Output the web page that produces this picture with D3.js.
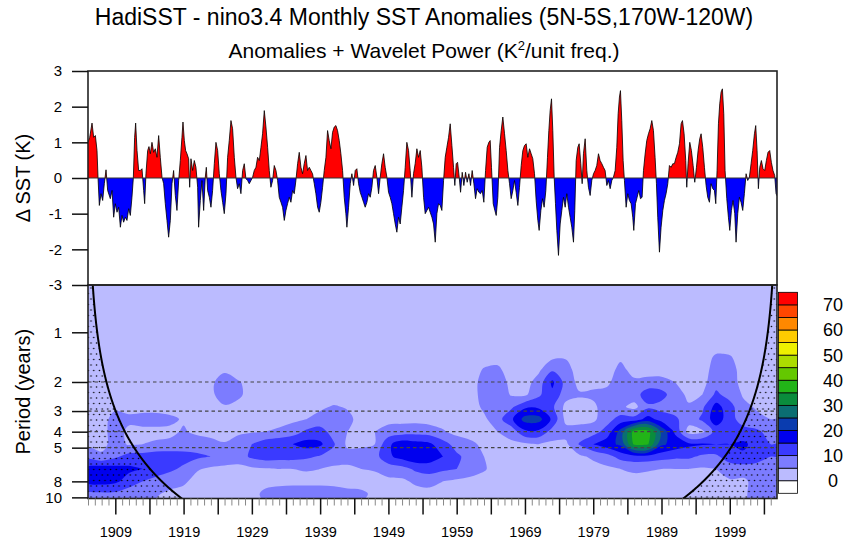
<!DOCTYPE html>
<html><head><meta charset="utf-8">
<script src="https://d3js.org/d3.v7.min.js"></script>
<style>
body{margin:0;background:#fff;}
svg{display:block;font-family:"Liberation Sans",Arial,Helvetica,sans-serif;}
</style>
</head><body>
<svg id="chart" width="848" height="541"></svg>
<script>
// ---------------- DATA ----------------
const sstStartYear = 1905, sstEndYear = 2005.917;
// Nino3.4 anomaly (K), [year, value]
const sst = [[1905,1.0],[1905.25,1.14],[1905.59,1.54],[1905.83,1.14],[1906.08,1.19],[1906.32,0.77],[1906.47,0],[1906.66,-0.77],[1906.91,-0.44],[1907.15,-0.63],[1907.39,-0.16],[1907.64,0.23],[1907.88,-0.35],[1908.27,-0.58],[1908.52,-0.35],[1908.76,-1.1],[1909,-0.72],[1909.25,-0.96],[1909.49,-0.82],[1909.74,-1.38],[1909.98,-1.05],[1910.22,-1.24],[1910.47,-1.1],[1910.71,-1.19],[1910.96,-0.86],[1911.2,-1.05],[1911.44,-0.54],[1911.64,0],[1911.83,1.14],[1911.98,1.54],[1912.18,0.77],[1912.42,0.21],[1912.66,0.21],[1912.91,0.26],[1913.15,-0.35],[1913.3,-0.72],[1913.49,0.12],[1913.74,0.77],[1913.93,0.88],[1914.13,0.68],[1914.37,1.0],[1914.62,0.72],[1914.86,0.82],[1915.1,0.58],[1915.35,1.19],[1915.59,0.58],[1915.84,0.02],[1916.08,-0.16],[1916.32,-0.72],[1916.57,-1.19],[1916.81,-1.66],[1917.06,-1.19],[1917.3,-0.16],[1917.54,0.21],[1917.79,-0.49],[1918.03,-0.91],[1918.28,-0.07],[1918.52,0.49],[1918.76,1.14],[1918.91,1.57],[1919.11,1.05],[1919.3,0.77],[1919.5,0.68],[1919.74,0.54],[1919.89,-0.26],[1920.08,0.54],[1920.33,0.21],[1920.57,0.49],[1920.81,0.3],[1921.06,-0.26],[1921.2,-1.38],[1921.45,-0.63],[1921.69,-0.07],[1921.94,-0.91],[1922.18,0.02],[1922.33,0.3],[1922.52,-0.35],[1922.77,-0.54],[1923.01,-0.82],[1923.25,-0.35],[1923.5,0.4],[1923.74,1.0],[1923.99,0.77],[1924.23,0.12],[1924.47,-0.35],[1924.72,-0.68],[1924.96,-1.0],[1925.21,-0.44],[1925.45,0.58],[1925.69,1.05],[1925.94,1.61],[1926.18,1.38],[1926.43,0.58],[1926.67,0.02],[1926.91,-0.3],[1927.16,-0.16],[1927.4,-0.44],[1927.65,0.21],[1927.89,0.4],[1928.13,-0.02],[1928.38,-0.07],[1928.62,-0.16],[1928.87,-0.07],[1929.11,0.02],[1929.35,0.21],[1929.6,0.3],[1929.84,0.58],[1930.09,0.49],[1930.33,0.86],[1930.57,1.24],[1930.82,1.89],[1931.06,1.43],[1931.31,0.86],[1931.55,0.21],[1931.79,-0.26],[1932.04,-0.07],[1932.28,0.35],[1932.53,0.21],[1932.77,-0.07],[1933.01,-0.54],[1933.26,-0.68],[1933.5,-0.82],[1933.75,-1.19],[1933.99,-0.91],[1934.23,-0.72],[1934.48,-0.54],[1934.72,-0.68],[1934.97,-0.35],[1935.21,-0.44],[1935.45,-0.07],[1935.7,0.4],[1935.94,0.72],[1936.19,0.3],[1936.43,0.12],[1936.67,0.4],[1936.92,0.63],[1937.16,0.21],[1937.41,0.3],[1937.65,0.21],[1937.89,0.12],[1938.14,-0.16],[1938.38,-0.44],[1938.63,-0.82],[1938.87,-0.96],[1939.11,-0.68],[1939.36,-0.26],[1939.6,0.21],[1939.85,0.58],[1940.09,1.33],[1940.33,1.05],[1940.58,0.82],[1940.82,1.28],[1941.07,1.43],[1941.31,1.47],[1941.55,1.33],[1941.8,1.05],[1942.04,0.68],[1942.29,0.21],[1942.53,-0.54],[1942.77,-1.0],[1942.92,-1.38],[1943.16,-0.82],[1943.41,-0.16],[1943.65,0.12],[1943.9,-0.21],[1944.14,0.21],[1944.38,0.26],[1944.63,-0.16],[1944.87,-0.4],[1945.12,-0.54],[1945.36,-0.68],[1945.6,-0.82],[1945.85,-0.68],[1946.09,-0.44],[1946.34,-0.54],[1946.58,-0.26],[1946.82,0.21],[1947.07,0.35],[1947.31,0.02],[1947.56,-0.44],[1947.8,0.02],[1948.04,0.4],[1948.29,0.68],[1948.53,0.3],[1948.78,0.02],[1949.02,-0.4],[1949.26,-0.54],[1949.51,-0.72],[1949.75,-1.0],[1950,-1.29],[1950.24,-1.52],[1950.48,-1.1],[1950.73,-1.29],[1950.97,-0.82],[1951.22,-0.35],[1951.46,0.3],[1951.7,1.0],[1951.95,0.77],[1952.19,0.21],[1952.44,-0.54],[1952.68,0.12],[1952.92,0.4],[1953.17,0.82],[1953.41,0.58],[1953.66,0.77],[1953.9,0.3],[1954.15,-0.54],[1954.39,-1.0],[1954.64,-0.91],[1954.88,-0.82],[1955.12,-0.96],[1955.37,-1.1],[1955.61,-1.29],[1955.86,-1.8],[1956.1,-1.0],[1956.34,-0.72],[1956.59,-0.77],[1956.83,-0.91],[1957.08,-0.07],[1957.32,0.58],[1957.56,0.86],[1957.81,1.14],[1958.05,1.52],[1958.3,0.91],[1958.54,0.3],[1958.73,-0.21],[1958.93,0.4],[1959.13,0.44],[1959.37,0.02],[1959.57,-0.4],[1959.81,0.16],[1960.05,-0.21],[1960.3,0.16],[1960.54,-0.12],[1960.79,0.12],[1961.03,-0.21],[1961.27,0.21],[1961.52,-0.16],[1961.76,-0.58],[1962,-0.3],[1962.25,-0.4],[1962.49,-0.44],[1962.74,-0.35],[1962.98,-0.68],[1963.23,0.21],[1963.47,0.86],[1963.71,1.0],[1963.91,1.05],[1964.1,0.3],[1964.35,-0.72],[1964.59,-0.91],[1964.79,-1.05],[1965.03,-0.54],[1965.28,0.86],[1965.52,1.33],[1965.76,1.71],[1966.01,1.24],[1966.25,0.77],[1966.5,0.21],[1966.74,-0.16],[1966.98,-0.58],[1967.23,-0.35],[1967.47,-0.07],[1967.71,-0.4],[1967.96,-0.77],[1968.2,-0.26],[1968.45,0.35],[1968.69,0.77],[1968.93,0.91],[1969.18,0.96],[1969.42,0.58],[1969.67,0.82],[1969.91,0.68],[1970.15,0.54],[1970.4,0.12],[1970.64,-0.63],[1970.89,-1.19],[1971.08,-1.47],[1971.33,-0.91],[1971.57,-0.58],[1971.81,-0.82],[1972.06,-0.35],[1972.3,0.58],[1972.5,1.33],[1972.69,1.89],[1972.89,2.22],[1973.08,1.33],[1973.28,0.02],[1973.47,-0.72],[1973.67,-1.47],[1973.91,-2.17],[1974.16,-1.29],[1974.4,-0.91],[1974.64,-0.54],[1974.89,-0.82],[1975.13,-0.44],[1975.38,-0.82],[1975.62,-1.1],[1975.86,-1.38],[1976.11,-1.8],[1976.3,-0.91],[1976.5,0.49],[1976.74,0.86],[1976.94,0.96],[1977.18,0.4],[1977.38,-0.16],[1977.57,0.68],[1977.82,1.1],[1978.06,0.21],[1978.3,-0.26],[1978.55,-0.49],[1978.79,-0.07],[1979.04,0.12],[1979.28,0.21],[1979.52,0.35],[1979.77,0.68],[1980.01,0.49],[1980.26,0.4],[1980.5,0.3],[1980.74,0.21],[1980.99,-0.21],[1981.23,-0.07],[1981.48,-0.3],[1981.72,-0.07],[1981.96,0.02],[1982.21,0.21],[1982.45,0.86],[1982.65,1.8],[1982.84,2.27],[1982.99,2.45],[1983.18,1.61],[1983.38,0.49],[1983.57,-0.07],[1983.82,-0.82],[1984.06,-0.44],[1984.3,-0.63],[1984.55,-0.72],[1984.79,-1.1],[1984.94,-1.47],[1985.19,-0.72],[1985.43,-0.54],[1985.67,-0.35],[1985.92,-0.58],[1986.16,-0.54],[1986.36,0.21],[1986.6,0.67],[1986.84,1.05],[1987.09,1.24],[1987.33,1.38],[1987.58,1.61],[1987.82,1.33],[1988.06,0.58],[1988.26,-0.16],[1988.45,-1.1],[1988.7,-2.08],[1988.94,-1.38],[1989.19,-0.91],[1989.43,-0.63],[1989.67,-0.44],[1989.92,-0.16],[1990.16,0.35],[1990.41,0.3],[1990.65,0.4],[1990.89,0.4],[1991.14,0.58],[1991.38,0.72],[1991.63,0.96],[1991.87,1.52],[1992.07,1.61],[1992.31,1.24],[1992.55,0.49],[1992.7,-0.26],[1992.89,0.4],[1993.14,1.0],[1993.38,0.77],[1993.63,0.35],[1993.87,-0.12],[1994.12,0.3],[1994.36,0.77],[1994.6,1.1],[1994.8,1.24],[1995.04,0.86],[1995.29,0.3],[1995.53,-0.21],[1995.77,-0.54],[1996.02,-0.68],[1996.26,-0.16],[1996.51,-0.3],[1996.75,-0.35],[1996.95,-0.72],[1997.14,0.21],[1997.34,1.52],[1997.53,2.08],[1997.73,2.41],[1997.92,2.5],[1998.12,1.8],[1998.31,0.21],[1998.56,-0.58],[1998.8,-1.1],[1999,-1.47],[1999.24,-0.91],[1999.48,-0.63],[1999.73,-1.0],[1999.92,-1.8],[2000.17,-1.0],[2000.41,-0.54],[2000.65,-0.68],[2000.9,-0.91],[2001.14,-0.44],[2001.39,0.12],[2001.63,-0.07],[2001.87,0.02],[2002.12,0.4],[2002.36,0.77],[2002.61,1.24],[2002.8,1.47],[2003,0.77],[2003.19,-0.3],[2003.39,0.3],[2003.63,0.49],[2003.87,0.26],[2004.12,0.21],[2004.36,0.49],[2004.6,0.72],[2004.85,0.77],[2005.09,0.44],[2005.33,0.21],[2005.58,0.07],[2005.78,-0.44],[2005.917,-0.5]];

const sstTicks = [-3,-2,-1,0,1,2,3];
const periodTicks = [1,2,3,4,5,8,10];
const dashedPeriods = [2,3,4,5];
const majorTickYears = [1909,1914,1919,1924,1929,1934,1939,1944,1949,1954,1959,1964,1969,1974,1979,1984,1989,1994,1999,2004];
const labelYears = [1909,1919,1929,1939,1949,1959,1969,1979,1989,1999];

// wavelet power grid: columns every 2 years from 1905; rows at these periods (years)
const gridYear0 = 1905, gridYearStep = 2;
const gridPeriods = [0.5,0.59,0.71,0.84,1,1.19,1.41,1.68,2,2.38,2.83,3.36,4,4.76,5.66,6.73,8,9.51,11.31];
const powerShortPeriods = 2;      // power for the six shortest-period rows (0.5 - 1.19 yr)
// each column: power at periods 1.41 ... 11.31
const powerCols = [
[2,2,2,2,2.5,3,3.5,4,8,17,17,8,6],          //1905
[2,2,2,2,2.5,3,3.5,3.5,6,18,17,9,7],        //1907
[2,2,2,2,4,7,7,7,9,17,16,9,7],              //1909
[2,2,2,2,3.5,6,4,4.5,12,16,13,7,6],         //1911
[2,2,2,2,3.5,6.5,4,5,12,15,10,7,5],         //1913
[2,2,2,2,3.5,6.5,4,5.5,13,13,8,5.5,4],      //1915
[2,2,2,2,3,6,4,6,13,11,7,4,3],              //1917
[2,2,2,2,2.5,4.5,5.5,7,12,9,6,3,3],         //1919
[2,2,2,2,2.5,3,4,7.5,11,5.5,3,2.5,2.5],     //1921
[2,2,4,4,2.5,2.5,3,7,10,4,2.5,2.5,2.5],     //1923
[2,4,7.5,7.5,4.5,2.5,2.5,5.5,7.5,4,2.5,2.5,2.5], //1925
[2,2,5.5,6,3.5,2.5,4,7.5,7.5,3.5,2.5,2.5,2.5],   //1927
[2,2,3,3,2.5,2.5,4.5,10,11,4,2.5,3,3],      //1929
[2,2,2,2,2.5,3,5,13,12.5,4.5,3,6.5,5],      //1931
[2,2,2,2,2.5,3,6,14,12,5,3,8,6],            //1933
[2,2,2,2,2.5,4,7.5,15,12,5,3,9,7],          //1935
[2,2,2,2,3,5,11,17,11,5.5,3,9,7],           //1937
[2,2,2,2,4,7,12,16,9.5,5,3,9,7],            //1939
[2,2,2,2,5.5,7.5,8,10.5,8,4,3,8,6],         //1941
[2,2,2,2,4.5,6.5,5,4,7,4,3,6.5,5],          //1943
[2,2,2,2,2.5,3,4.5,4,7.5,5,3,6,4.5],        //1945
[2,2,2,2,2.5,3,5,5,8,5.5,3,4,3],            //1947
[2,2,2,2,2.5,3.5,7,14,14,7,4,3,3],          //1949
[2,2,2,2,2.5,3.5,7.5,18,17,8,4,3,3],        //1951
[2,2,2,2,2.5,3.5,8,17,19,11,6,3,3],         //1953
[2,2,2,2,2.5,3,7.5,16,18,12,7,3,3],         //1955
[2,2,2,2,2.5,3,5.5,12,15,11,5,3,3],         //1957
[2,2,2,2,2.5,2.5,3.5,8,11,10,4,2.5,2.5],    //1959
[2,2,2,2,2.5,2.5,3,6,8,7.5,3.5,2.5,2.5],    //1961
[2,5.5,7.5,7.5,6,4,3,4,5,5.5,3,2.5,2.5],    //1963
[3,6,8,8.5,9,8,5,3,3,3,2.5,2.5,2.5],        //1965
[2,2.5,3.5,4.5,9,14,7,4,2.5,2.5,2.5,2.5,2.5],    //1967
[2,2.5,3,4,14,22,14,4,2.5,2.5,2.5,2.5,2.5],      //1969
[2,4,7,9,14,22,14,5,3,2.5,2.5,2.5,2.5],          //1971
[4,9,16,14,11,14,8,4,2.5,2.5,2.5,2.5,2.5],       //1973
[4.5,7,8,7,3.5,3.5,7,4,2.5,2.5,2.5,2.5,2.5],     //1975
[2,2.5,3.5,5.5,3.5,3.5,7,10.5,4,2.5,2.5,2.5,2.5],//1977
[2,2.5,3.5,6,4,4,8,15,6,3,2.5,2.5,2.5],          //1979
[2,2.5,4,6.5,7.5,8,12,18,8,4,2.5,2.5,2.5],       //1981
[4,6.5,7.5,8,6,12,22,21,12,5,3,2.5,2.5],         //1983
[2.5,3,6,7.5,3.5,12,37,36,13,6,3,2.5,2.5],       //1985
[2,3,6.5,13,9,17,37,35.5,13,5.5,3,2.5,2.5],      //1987
[2,3,6.5,12,8,13,24,21,12,5,3,2.5,2.5],          //1989
[2,2.5,5,7,7.5,11,14,18,11,5,3,2.5,2.5],         //1991
[2,2.5,3.5,4,5.5,7,3,16,11,5,3,2.5,2.5],         //1993
[2,2.5,3.5,5,9,11,4,15.5,9,4.5,3,2.5,2.5],       //1995
[6,7.5,8,11,17,18,12,15,9,5,3,2.5,2.5],          //1997
[5.5,7,7,8,12,12,10,15,13,7,4.5,3,3],            //1999
[2.5,3,3.5,4.5,6,7.5,12,16,14,7.5,4,4,4],        //2001
[2,2.5,3,3.5,4.5,6,11,13,12,8,7,7.5,7],          //2003
[2,2,2.5,3,3.5,5,8,10,10,8,8,8,8]                //2005
];
const levels = [0,5,10,15,20,25,30,35,40,45,50,55,60,65,70];
const levelColors = ["#BBBBFF","#7C7CFF","#3A3AFF","#0000EE","#0A3CAF","#0B6E72","#0A8C3C","#22B418","#64C800","#ACDC00","#EEF000","#FFCC00","#FF8800","#FF4600","#FF0000"];
const belowColor = "#FFFFFF";
const colorbarLabels = [0,10,20,30,40,50,60,70];
const coiFactor = 0.74;   // Morlet cone of influence, period per year from series end

// ---------------- LAYOUT ----------------
const X0 = 88, X1 = 777, TOP0 = 71, MID = 285, BOT = 498.5;
const FONT = '"Liberation Sans", Arial, Helvetica, sans-serif';
const svg = d3.select("#chart");
const defs = svg.append("defs");

const x = d3.scaleLinear().domain([sstStartYear, sstEndYear]).range([X0, X1]);
const ySST = d3.scaleLinear().domain([-3, 3]).range([MID, TOP0]);
const yP = d3.scaleLog().base(2).domain([0.517, 10.16]).range([MID, BOT]);

function clip(id, x0, y0, x1, y1) {
  defs.append("clipPath").attr("id", id).append("rect")
    .attr("x", x0).attr("y", y0).attr("width", x1 - x0).attr("height", y1 - y0);
}
const y0 = ySST(0);
clip("cPos", X0, TOP0, X1, y0);
clip("cNeg", X0, y0, X1, MID);
clip("cTop", X0, TOP0, X1, MID);
clip("cWave", X0, MID, X1, BOT);

// ---------------- TOP PANEL ----------------
const area = d3.area().x(d => x(d[0])).y0(y0).y1(d => ySST(d[1]));
const gTop = svg.append("g");
gTop.append("path").datum(sst).attr("d", area).attr("fill", "#FF0000").attr("clip-path", "url(#cPos)");
gTop.append("path").datum(sst).attr("d", area).attr("fill", "#0000FF").attr("clip-path", "url(#cNeg)");
gTop.append("path").datum(sst)
  .attr("d", d3.line().x(d => x(d[0])).y(d => ySST(d[1])))
  .attr("fill", "none").attr("stroke", "#000").attr("stroke-width", 0.8).attr("clip-path", "url(#cTop)");
gTop.append("line").attr("x1", X0).attr("x2", X1).attr("y1", y0).attr("y2", y0)
  .attr("stroke", "#333").attr("stroke-width", 1);

// ---------------- WAVELET PANEL ----------------
const gW = svg.append("g").attr("clip-path", "url(#cWave)");
gW.append("rect").attr("x", X0).attr("y", MID).attr("width", X1 - X0).attr("height", BOT - MID)
  .attr("fill", levelColors[0]);

const nC = powerCols.length, nR = gridPeriods.length, nUpper = nR - powerCols[0].length;
const values = new Array(nC * nR);
for (let j = 0; j < nR; j++)
  for (let i = 0; i < nC; i++)
    values[j * nC + i] = j < nUpper ? powerShortPeriods : powerCols[i][j - nUpper];
const lp = gridPeriods.map(Math.log2);
function gyToLog2(gy) {
  const k = gy - 0.5;
  const i = Math.max(0, Math.min(nR - 2, Math.floor(k)));
  return lp[i] + (k - i) * (lp[i + 1] - lp[i]);
}
const gxToYear = gx => gridYear0 + (gx - 0.5) * gridYearStep;
const smoothRing = d3.line().curve(d3.curveCatmullRomClosed.alpha(0.5));
function ringPath(ring) {
  const pts = ring.slice(0, -1).map(([gx, gy]) => [x(gxToYear(gx)), yP(Math.pow(2, gyToLog2(gy)))]);
  return smoothRing(pts);
}
const contours = d3.contours().size([nC, nR]).thresholds(levels)(values);
contours.forEach((c, k) => {
  if (k === 0) return;
  const d = c.coordinates.map(poly => poly.map(ringPath).join("")).join("");
  if (!d) return;
  gW.append("path").attr("d", d).attr("fill", levelColors[k]).attr("fill-rule", "evenodd");
});

// stipple outside the cone of influence
const pat = defs.append("pattern").attr("id", "dots").attr("patternUnits", "userSpaceOnUse")
  .attr("width", 5.6).attr("height", 11);
pat.append("circle").attr("cx", 1.4).attr("cy", 2).attr("r", 0.75).attr("fill", "#000");
pat.append("circle").attr("cx", 4.2).attr("cy", 7.5).attr("r", 0.75).attr("fill", "#000");
const coi = t => coiFactor * Math.min(t - sstStartYear, sstEndYear - t);
const tSamples = d3.range(sstStartYear, sstEndYear + 0.001, 0.02);
const pLo = yP.domain()[0], pHi = yP.domain()[1];
gW.append("path").datum(tSamples)
  .attr("d", d3.area().x(t => x(t)).y0(BOT + 2)
    .y1(t => yP(Math.max(pLo * 0.9, Math.min(pHi * 1.1, coi(t))))))
  .attr("fill", "url(#dots)");

// dashed reference periods
dashedPeriods.forEach(p => {
  gW.append("line").attr("x1", X0).attr("x2", X1).attr("y1", yP(p)).attr("y2", yP(p))
    .attr("stroke", "#444").attr("stroke-width", 1.2).attr("stroke-dasharray", "3.5,3");
});

// COI curve
gW.append("path").datum(tSamples)
  .attr("d", d3.line().defined(t => coi(t) >= 0.4 && coi(t) <= 12).x(t => x(t)).y(t => yP(coi(t))))
  .attr("fill", "none").attr("stroke", "#000").attr("stroke-width", 2);

// ---------------- FRAMES & AXES ----------------
[[TOP0, MID], [MID, BOT]].forEach(([a, b]) => {
  svg.append("rect").attr("x", X0).attr("y", a).attr("width", X1 - X0).attr("height", b - a)
    .attr("fill", "none").attr("stroke", "#222").attr("stroke-width", 1.6);
});

function styleAxis(g) {
  g.select(".domain").remove();
  g.selectAll(".tick line").attr("stroke", "#111").attr("stroke-width", 1.5);
  g.selectAll(".tick text").attr("fill", "#000");
  g.attr("font-family", FONT).attr("font-size", 15);
}
svg.append("g").attr("transform", `translate(${X0},0)`)
  .call(d3.axisLeft(ySST).tickValues(sstTicks).tickSize(16).tickPadding(10).tickFormat(d => String(d)))
  .call(styleAxis);
svg.append("g").attr("transform", `translate(${X0},0)`)
  .call(d3.axisLeft(yP).tickValues(periodTicks).tickSize(16).tickPadding(10).tickFormat(d => String(d)))
  .call(styleAxis);

// minor year ticks
const minorYears = d3.range(1905, 2006).filter(yv => !majorTickYears.includes(yv));
svg.append("g").attr("transform", `translate(0,${BOT})`)
  .call(d3.axisBottom(x).tickValues(minorYears).tickSize(7).tickFormat(""))
  .call(g => { g.select(".domain").remove(); g.selectAll(".tick line").attr("stroke", "#888").attr("stroke-width", 1); });
svg.append("g").attr("transform", `translate(0,${BOT})`)
  .call(d3.axisBottom(x).tickValues(majorTickYears).tickSize(16).tickPadding(12)
    .tickFormat(d => labelYears.includes(d) ? String(d) : ""))
  .call(styleAxis)
  .call(g => g.attr("font-size", 14.5));

// axis titles
svg.append("text").attr("transform", `translate(30,${(TOP0 + MID) / 2}) rotate(-90)`)
  .attr("text-anchor", "middle").attr("font-family", FONT).attr("font-size", 20).text("\u0394 SST (K)");
svg.append("text").attr("transform", `translate(30,${(MID + BOT) / 2}) rotate(-90)`)
  .attr("text-anchor", "middle").attr("font-family", FONT).attr("font-size", 20).text("Period (years)");

// ---------------- COLORBAR ----------------
const cbX = 778.5, cbW = 19, cbTop = 292.3, cbBot = 493.3;
const yCb = d3.scaleLinear().domain([-5, 75]).range([cbBot, cbTop]);
const boxes = [{lo: -5, c: belowColor}].concat(levels.map((l, k) => ({lo: l, c: levelColors[k]})));
svg.append("g").selectAll("rect").data(boxes).join("rect")
  .attr("x", cbX).attr("width", cbW)
  .attr("y", d => yCb(d.lo + 5)).attr("height", d => yCb(d.lo) - yCb(d.lo + 5))
  .attr("fill", d => d.c).attr("stroke", "#000").attr("stroke-width", 0.8);
svg.append("g").selectAll("text").data(colorbarLabels).join("text")
  .attr("x", 833).attr("y", d => yCb(d)).attr("dy", "0.36em")
  .attr("text-anchor", "middle").attr("font-family", FONT).attr("font-size", 18).text(d => d);

// ---------------- TITLES ----------------
svg.append("text").attr("x", 424).attr("y", 25).attr("text-anchor", "middle")
  .attr("font-family", FONT).attr("font-size", 23)
  .text("HadiSST - nino3.4 Monthly SST Anomalies (5N-5S,170W-120W)");
const sub = svg.append("text").attr("x", 424).attr("y", 58).attr("text-anchor", "middle")
  .attr("font-family", FONT).attr("font-size", 21);
sub.append("tspan").text("Anomalies + Wavelet Power (K");
sub.append("tspan").attr("font-size", 13).attr("dy", -8).text("2");
sub.append("tspan").attr("dy", 8).text("/unit freq.)");
</script>
</body></html>
